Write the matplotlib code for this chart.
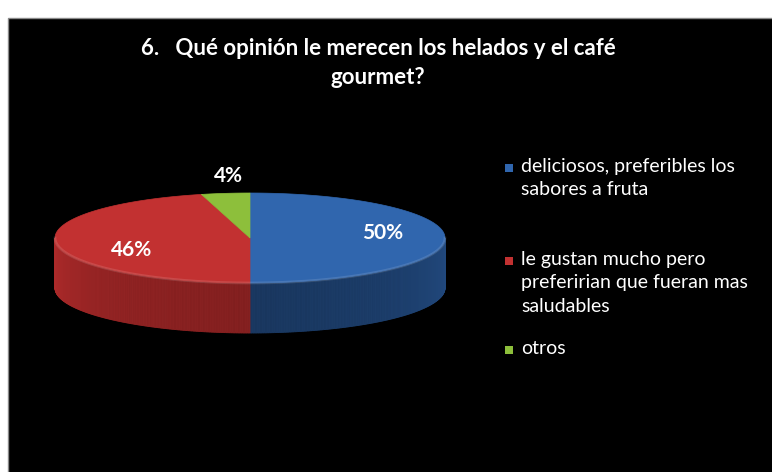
import matplotlib.pyplot as plt
import numpy as np
from matplotlib.patches import Polygon, Rectangle

# survey answers
categorias = ['deliciosos, preferibles los\nsabores a fruta',
              'le gustan mucho pero\npreferirian que fueran mas\nsaludables',
              'otros']
porcentajes = [50, 46, 4]
etiquetas = ['50%', '46%', '4%']
colores_top = ['#3066ae', '#c23131', '#8dbf3b']
colores_lado = ['#204679', '#a62828', '#6a9a2a']

titulo = '6.   Qué opinión le merecen los helados y el café\ngourmet?'

plt.rcParams['font.family'] = ['Lato', 'DejaVu Sans']

fig = plt.figure(figsize=(7.72, 4.72), dpi=100, facecolor='white')
ax = fig.add_axes([0, 0, 1, 1])
ax.set_xlim(0, 772)
ax.set_ylim(472, 0)
ax.axis('off')

# black chart area with thin grey frame
ax.add_patch(Rectangle((7.5, 17.5), 770, 460, fc='black', ec='#8a8a8a', lw=1))

ax.text(378, 63, titulo, color='white', fontsize=16, fontweight='bold',
        ha='center', va='center', linespacing=1.45)

# 3D pie geometry (pixels)
cx, cy = 250, 238
a, b = 195, 45
depth = 50


def punto(phi, dy=0):
    # phi in degrees, clockwise from 12 o'clock
    r = np.radians(phi)
    return cx + a * np.sin(r), cy - b * np.cos(r) + dy


def mezcla(c, f):
    c = np.array(plt.matplotlib.colors.to_rgb(c))
    return np.clip(c * f, 0, 1)


bordes = np.concatenate([[0], np.cumsum(porcentajes)]) / sum(porcentajes) * 360

# sides (front half only: 90..270 deg)
for i in range(len(porcentajes)):
    p0, p1 = max(bordes[i], 90), min(bordes[i + 1], 270)
    if p1 <= p0:
        continue
    pasos = np.linspace(p0, p1, int((p1 - p0) * 2) + 2)
    for q0, q1 in zip(pasos[:-1], pasos[1:]):
        m = (q0 + q1) / 2
        # darker towards the front centre
        f = 0.8 + 0.25 * (abs(m - 180) / 90) ** 1.5
        x0, y0 = punto(q0)
        x1, y1 = punto(q1)
        quad = [(x0, y0), (x1, y1), (x1, y1 + depth), (x0, y0 + depth)]
        ax.add_patch(Polygon(quad, closed=True, fc=mezcla(colores_lado[i], f),
                             ec=mezcla(colores_lado[i], f), lw=0.6))

# top faces
for i in range(len(porcentajes)):
    ang = np.linspace(bordes[i], bordes[i + 1], 200)
    pts = [(cx, cy)] + [punto(t) for t in ang]
    ax.add_patch(Polygon(pts, closed=True, fc=colores_top[i], ec=colores_top[i], lw=0.5))

# soft rim on the top face edge
ang = np.linspace(90, 270, 200)
xs, ys = zip(*[punto(t) for t in ang])
ax.plot(xs, ys, color='white', alpha=0.12, lw=2)

# value labels
pos_etiquetas = [(383, 233), (132, 250), (228, 176)]
for (x, y), t in zip(pos_etiquetas, etiquetas):
    ax.text(x, y, t, color='white', fontsize=15, fontweight='bold',
            ha='center', va='center')

# legend
leg_y = [168, 261, 350]
for yy, cat, col in zip(leg_y, categorias, colores_top):
    ax.add_patch(Rectangle((505, yy - 4.5), 8, 8, fc=col, ec='none'))
    ax.text(521, yy - 10, cat, color='white', fontsize=14, ha='left', va='top',
            linespacing=1.45)

fig.savefig('out.png', dpi=100, facecolor=fig.get_facecolor())
